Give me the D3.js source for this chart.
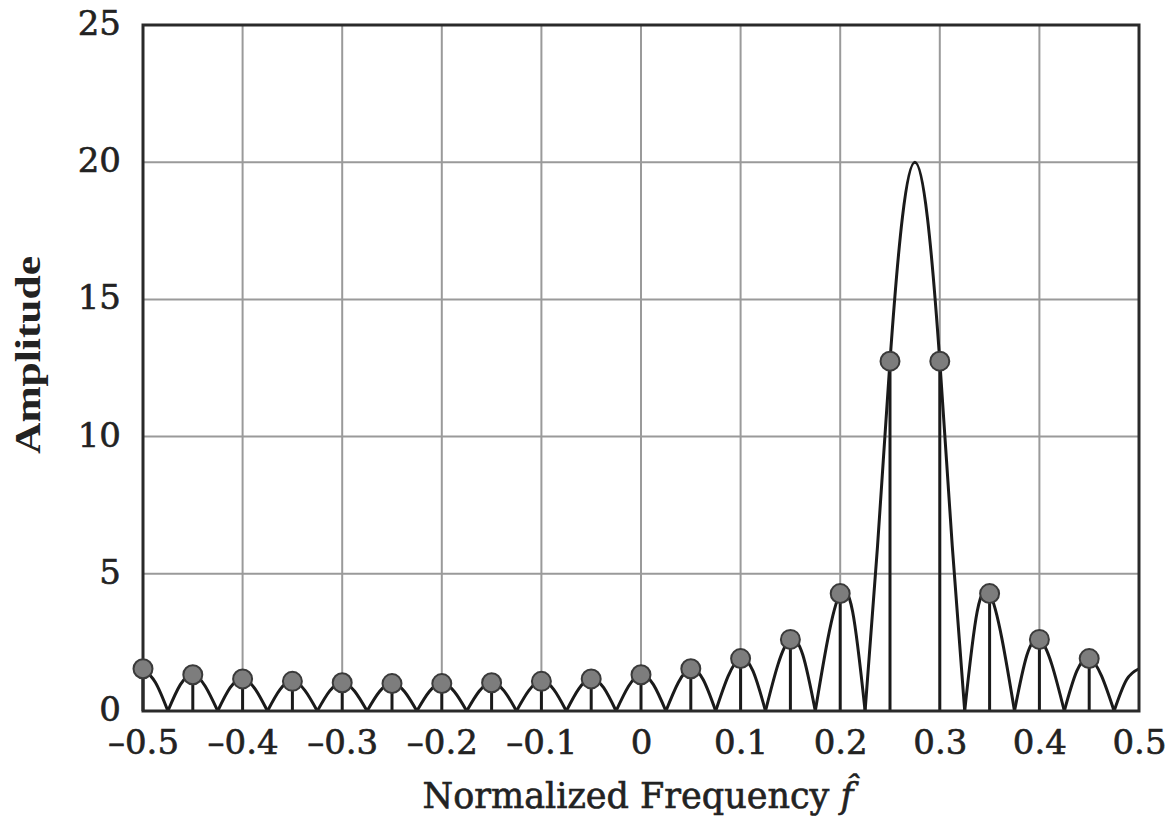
<!DOCTYPE html>
<html>
<head>
<meta charset="utf-8">
<script src="https://cdn.jsdelivr.net/npm/d3@7"></script>
<style>
  html, body { margin: 0; padding: 0; background: #fff; }
  svg { display: block; }
</style>
</head>
<body>
<svg id="chart" width="1175" height="830"></svg>
<script>
// ---- data ----
const xTicks = [-0.5, -0.4, -0.3, -0.2, -0.1, 0, 0.1, 0.2, 0.3, 0.4, 0.5];
const xTickLabels = ["\u20130.5", "\u20130.4", "\u20130.3", "\u20130.2", "\u20130.1", "0", "0.1", "0.2", "0.3", "0.4", "0.5"];
const yTicks = [0, 5, 10, 15, 20, 25];
const yTickLabels = ["0", "5", "10", "15", "20", "25"];

// DFT samples (dots with stems)
const sampleFreq = [-0.5, -0.45, -0.4, -0.35, -0.3, -0.25, -0.2, -0.15, -0.1, -0.05,
                    0, 0.05, 0.1, 0.15, 0.2, 0.25, 0.3, 0.35, 0.4, 0.45];
const sampleAmp = [1.54, 1.32, 1.17, 1.08, 1.03, 1.0, 1.0, 1.03, 1.08, 1.17,
                   1.32, 1.54, 1.91, 2.61, 4.28, 12.75, 12.75, 4.28, 2.61, 1.91];

// continuous spectrum, points
const curveFreq = [-0.5, -0.4875, -0.475, -0.4625, -0.45, -0.4375, -0.425, -0.4125, -0.4, -0.3875,
  -0.375, -0.3625, -0.35, -0.3375, -0.325, -0.3125, -0.3, -0.2875, -0.275, -0.2625,
  -0.25, -0.2375, -0.225, -0.2125, -0.2, -0.1875, -0.175, -0.1625, -0.15, -0.1375,
  -0.125, -0.1125, -0.1, -0.0875, -0.075, -0.0625, -0.05, -0.0375, -0.025, -0.0125,
  0, 0.0125, 0.025, 0.0375, 0.05, 0.0625, 0.075, 0.0875, 0.1, 0.1125,
  0.125, 0.1375, 0.15, 0.1625, 0.175, 0.1875, 0.2, 0.2125, 0.225, 0.2375,
  0.25, 0.2625, 0.275, 0.2875, 0.3, 0.3125, 0.325, 0.3375, 0.35, 0.3625,
  0.375, 0.3875, 0.4, 0.4125, 0.425, 0.4375, 0.45, 0.4625, 0.475, 0.4875, 0.5];
const curveAmp = [1.54, 1.04, 0, 0.96, 1.32, 0.90, 0, 0.85, 1.17, 0.81,
  0, 0.78, 1.08, 0.75, 0, 0.735, 1.03, 0.72, 0, 0.71,
  1.0, 0.71, 0, 0.71, 1.0, 0.71, 0, 0.72, 1.03, 0.735,
  0, 0.75, 1.08, 0.78, 0, 0.81, 1.17, 0.85, 0, 0.90,
  1.32, 0.96, 0, 1.04, 1.54, 1.14, 0, 1.27, 1.91, 1.45,
  0, 1.69, 2.61, 2.04, 0, 2.61, 4.28, 3.62, 0, 6.02,
  12.75, 18.0, 20.0, 18.0, 12.75, 6.02, 0, 3.62, 4.28, 2.61,
  0, 2.04, 2.61, 1.69, 0, 1.45, 1.91, 1.27, 0, 1.14, 1.54];

const xTitle = "Normalized Frequency ";
const yTitle = "Amplitude";

// ---- drawing ----
const svg = d3.select("#chart");
const L = 143, R = 1139, T = 25, B = 711;
const x = d3.scaleLinear().domain([-0.5, 0.5]).range([L, R]);
const y = d3.scaleLinear().domain([0, 25]).range([B, T]);
const tickFont = "'DejaVu Serif', serif";
const ink = "#222";

// grid
svg.append("g").selectAll("line").data(xTicks).join("line")
  .attr("x1", d => x(d)).attr("x2", d => x(d)).attr("y1", T).attr("y2", B)
  .attr("stroke", "#9a9a9a").attr("stroke-width", 2);
svg.append("g").selectAll("line").data(yTicks).join("line")
  .attr("x1", L).attr("x2", R).attr("y1", d => y(d)).attr("y2", d => y(d))
  .attr("stroke", "#9a9a9a").attr("stroke-width", 2);

// axes (labels only; frame drawn separately)
const xAxis = d3.axisBottom(x).tickValues(xTicks).tickSize(0).tickPadding(19)
  .tickFormat((d, i) => xTickLabels[i]);
const gx = svg.append("g").attr("transform", `translate(0,${B})`).call(xAxis);
gx.select(".domain").remove();
gx.selectAll("text").attr("font-family", tickFont).attr("font-size", 34)
  .attr("fill", ink).attr("stroke", ink).attr("stroke-width", 0.6).attr("dy", "0.72em");

const yAxis = d3.axisLeft(y).tickValues(yTicks).tickSize(0).tickPadding(22)
  .tickFormat((d, i) => yTickLabels[i]);
const gy = svg.append("g").attr("transform", `translate(${L},0)`).call(yAxis);
gy.select(".domain").remove();
gy.selectAll("text").attr("font-family", tickFont).attr("font-size", 34)
  .attr("fill", ink).attr("stroke", ink).attr("stroke-width", 0.6).attr("dy", "0.28em");

// curve, split into lobes at the zeros so that cusps stay sharp
const pts = curveFreq.map((f, i) => [f, curveAmp[i]]);
const segments = [];
let cur = [pts[0]];
for (let i = 1; i < pts.length; i++) {
  cur.push(pts[i]);
  if (pts[i][1] === 0 && i < pts.length - 1) { segments.push(cur); cur = [pts[i]]; }
}
segments.push(cur);
const line = d3.line().x(d => x(d[0])).y(d => y(d[1])).curve(d3.curveNatural);
svg.append("g").selectAll("path").data(segments).join("path")
  .attr("d", line).attr("fill", "none").attr("stroke", "#1a1a1a")
  .attr("stroke-width", 3).attr("stroke-linejoin", "round");

// stems
svg.append("g").selectAll("line").data(sampleFreq).join("line")
  .attr("x1", d => x(d)).attr("x2", d => x(d))
  .attr("y1", B).attr("y2", (d, i) => y(sampleAmp[i]))
  .attr("stroke", "#1a1a1a").attr("stroke-width", 3);

// frame
svg.append("rect").attr("x", L).attr("y", T).attr("width", R - L).attr("height", B - T)
  .attr("fill", "none").attr("stroke", "#2a2a2a").attr("stroke-width", 3);

// dots
svg.append("g").selectAll("circle").data(sampleFreq).join("circle")
  .attr("cx", d => x(d)).attr("cy", (d, i) => y(sampleAmp[i]))
  .attr("r", 9.5).attr("fill", "#7d7d7d").attr("stroke", "#3a3a3a").attr("stroke-width", 2);

// titles
const xt = svg.append("text").attr("x", 638).attr("y", 808)
  .attr("text-anchor", "middle").attr("font-family", tickFont)
  .attr("font-size", 35).attr("fill", ink).attr("stroke", ink).attr("stroke-width", 0.6);
xt.append("tspan").text(xTitle);
xt.append("tspan").attr("font-style", "italic").text("f\u0302");

svg.append("text")
  .attr("transform", `translate(40,355) rotate(-90)`)
  .attr("text-anchor", "middle").attr("font-family", "'Liberation Serif', serif")
  .attr("font-weight", "bold").attr("font-size", 36).attr("fill", ink)
  .attr("textLength", 198).attr("lengthAdjust", "spacingAndGlyphs")
  .text(yTitle);
</script>
</body>
</html>
